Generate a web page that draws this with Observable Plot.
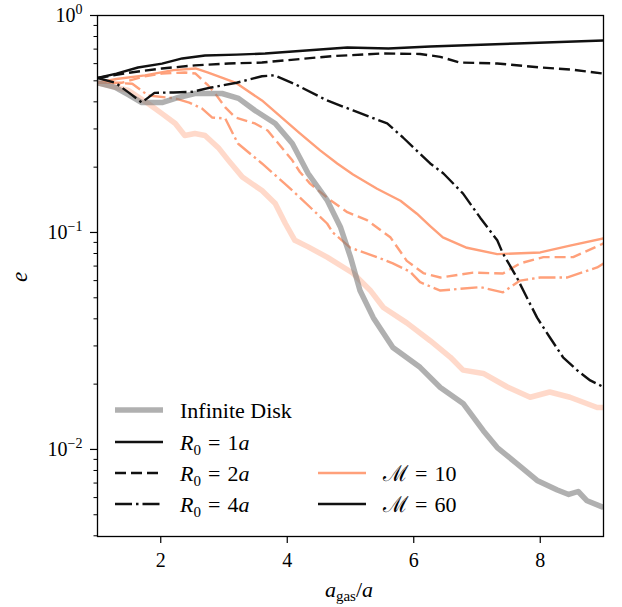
<!DOCTYPE html>
<html><head><meta charset="utf-8">
<script src="https://cdn.jsdelivr.net/npm/d3@7"></script>
<script src="https://cdn.jsdelivr.net/npm/@observablehq/plot@0.6"></script>
<style>
body{margin:0;background:#fff;}
#chart{position:relative;width:622px;height:607px;}
</style></head><body><div id="chart"></div>
<script>
// ---- data: [a_gas/a, e] ----
const infiniteDiskM60 = [[1,0.49],[1.28,0.466],[1.5,0.43],[1.7,0.397],[2.02,0.397],[2.28,0.419],[2.54,0.437],[2.97,0.437],[3.23,0.415],[3.49,0.365],[3.81,0.318],[4.08,0.257],[4.33,0.187],[4.63,0.141],[4.84,0.106],[5.0,0.077],[5.15,0.054],[5.36,0.0405],[5.67,0.0295],[6.1,0.0239],[6.42,0.0193],[6.78,0.0163],[7.1,0.0122],[7.32,0.0102],[7.63,0.0086],[7.95,0.0072],[8.27,0.0065],[8.45,0.0062],[8.6,0.0064],[8.74,0.0058],[9,0.0054]];
const infiniteDiskM10 = [[1,0.49],[1.25,0.47],[1.49,0.451],[1.8,0.393],[2.02,0.353],[2.23,0.318],[2.38,0.28],[2.54,0.286],[2.7,0.28],[2.91,0.246],[3.07,0.215],[3.29,0.18],[3.6,0.156],[3.81,0.136],[3.97,0.11],[4.12,0.092],[4.33,0.0858],[4.63,0.077],[5.04,0.0649],[5.31,0.0542],[5.52,0.0451],[5.89,0.0383],[6.26,0.0317],[6.58,0.0266],[6.78,0.0232],[7.1,0.0224],[7.48,0.0194],[7.84,0.0174],[8.15,0.0184],[8.47,0.0174],[8.9,0.0156],[9,0.0156]];
const r1M10 = [[1,0.49],[1.3,0.51],[1.75,0.53],[2.2,0.56],[2.55,0.57],[2.75,0.546],[3.18,0.491],[3.6,0.406],[4.2,0.286],[4.52,0.239],[4.79,0.208],[5.04,0.185],[5.42,0.159],[5.79,0.14],[6.05,0.122],[6.26,0.107],[6.46,0.095],[6.84,0.085],[7.32,0.0795],[8.0,0.0809],[8.47,0.087],[9,0.094]];
const r2M10 = [[1,0.49],[1.39,0.49],[1.75,0.525],[2.02,0.54],[2.38,0.546],[2.55,0.54],[2.75,0.476],[2.86,0.437],[3.02,0.377],[3.18,0.339],[3.49,0.318],[3.69,0.295],[3.86,0.257],[4.08,0.215],[4.2,0.19],[4.36,0.168],[4.68,0.141],[4.95,0.124],[5.26,0.114],[5.63,0.095],[5.89,0.074],[6.15,0.065],[6.42,0.062],[6.94,0.0653],[7.41,0.0647],[7.68,0.072],[8.05,0.077],[8.52,0.077],[9,0.089]];
const r4M10 = [[1,0.49],[1.2,0.49],[1.55,0.485],[1.8,0.428],[2.23,0.415],[2.45,0.397],[2.65,0.373],[2.81,0.339],[3.02,0.335],[3.22,0.257],[3.6,0.208],[3.96,0.168],[4.2,0.145],[4.47,0.122],[4.63,0.11],[4.72,0.1],[5.0,0.085],[5.42,0.077],[5.67,0.072],[5.94,0.066],[6.1,0.059],[6.42,0.054],[7.05,0.056],[7.41,0.053],[7.68,0.06],[8.0,0.062],[8.42,0.062],[8.9,0.069],[9,0.072]];
const r1M60 = [[1,0.515],[1.3,0.54],[1.64,0.576],[2.02,0.6],[2.34,0.634],[2.7,0.654],[3.2,0.66],[3.65,0.668],[4.3,0.69],[4.95,0.712],[5.6,0.705],[6.26,0.72],[7.63,0.743],[9,0.767]];
const r2M60 = [[1,0.515],[1.5,0.545],[2.02,0.57],[2.54,0.589],[3.07,0.601],[3.6,0.607],[4.2,0.63],[4.72,0.65],[5.5,0.668],[6.1,0.665],[6.42,0.645],[6.73,0.607],[7.32,0.601],[8.0,0.576],[8.47,0.564],[9,0.54]];
const r4M60 = [[1,0.515],[1.28,0.49],[1.5,0.44],[1.7,0.397],[1.9,0.44],[2.2,0.442],[2.5,0.445],[2.8,0.466],[3.2,0.49],[3.6,0.525],[3.8,0.53],[4.1,0.486],[4.63,0.406],[5.04,0.365],[5.58,0.318],[5.83,0.274],[6.26,0.208],[6.47,0.187],[6.78,0.151],[7.05,0.117],[7.32,0.092],[7.41,0.08],[7.63,0.062],[7.79,0.05],[7.95,0.0405],[8.15,0.0329],[8.36,0.0266],[8.58,0.0232],[8.79,0.0208],[9,0.0194]];

const xTicks = [2, 4, 6, 8];
const yMajor = [1, 0.1, 0.01];
const yMinor = [0.004,0.005,0.006,0.007,0.008,0.009,0.02,0.03,0.04,0.05,0.06,0.07,0.08,0.09,0.2,0.3,0.4,0.5,0.6,0.7,0.8,0.9];

const ORANGE = "#FFA07A", BLACK = "#111111", GREY = "#7f7f7f";
const DASH = "11,5", DASHDOT = "17,4,2.5,4";
const FONT = "Liberation Serif";

const series = [
  {data: r1M10, stroke: ORANGE, w: 2.4, op: 1, dash: null},
  {data: r2M10, stroke: ORANGE, w: 2.4, op: 1, dash: DASH},
  {data: r4M10, stroke: ORANGE, w: 2.4, op: 1, dash: DASHDOT},
  {data: infiniteDiskM10, stroke: ORANGE, w: 5.5, op: 0.4, dash: null},
  {data: infiniteDiskM60, stroke: GREY, w: 5.5, op: 0.62, dash: null},
  {data: r1M60, stroke: BLACK, w: 2.4, op: 1, dash: null},
  {data: r2M60, stroke: BLACK, w: 2.4, op: 1, dash: DASH},
  {data: r4M60, stroke: BLACK, w: 2.4, op: 1, dash: DASHDOT}
];

const chart = document.getElementById("chart");
const svgEl = Plot.plot({
  width: 622, height: 607,
  marginLeft: 97, marginRight: 19, marginTop: 15, marginBottom: 71,
  style: {fontFamily: FONT, fontSize: "20px", background: "#fff", color: "#000"},
  x: {domain: [1, 9]},
  y: {type: "log", domain: [0.00397, 1]},
  marks: [
    ...series.map(s => Plot.line(s.data, {x: d => d[0], y: d => d[1], stroke: s.stroke, strokeWidth: s.w, strokeOpacity: s.op, strokeDasharray: s.dash, strokeLinejoin: "round", strokeLinecap: "butt", clip: true})),
    Plot.axisX(xTicks, {tickSize: 7, tickPadding: 9, label: null, stroke: "#000", strokeWidth: 1.2, fontSize: 20}),
    Plot.axisY(yMajor, {tickSize: 7, tickPadding: 8, label: null, stroke: "#000", strokeWidth: 1.2, fontSize: 20,
      tickFormat: d => "10^" + String(Math.round(Math.log10(d))).replace("-", "\u2212")}),
    Plot.axisY(yMinor, {tickSize: 3.5, label: null, stroke: "#000", strokeWidth: 1, tickFormat: () => ""}),
    Plot.frame({stroke: "#000", strokeWidth: 1.3})
  ]
});
chart.appendChild(svgEl);

const svg = d3.select(svgEl);
// superscript tick labels
svg.selectAll("text").each(function () {
  const m = this.textContent.match(/^10\^(.+)$/);
  if (m) {
    this.textContent = "";
    const s = d3.select(this);
    s.append("tspan").text("10");
    s.append("tspan").attr("dy", "-0.55em").attr("font-size", "14px").text(m[1]);
  }
});

// axis labels
const xl = svg.append("text").attr("x", 349).attr("y", 597).attr("text-anchor", "middle").attr("font-size", 22);
xl.append("tspan").attr("font-style", "italic").text("a");
xl.append("tspan").attr("dy", 4).attr("font-size", 15).text("gas");
xl.append("tspan").attr("dy", -4).text("/");
xl.append("tspan").attr("font-style", "italic").text("a");

svg.append("text").attr("transform", "translate(27,277) rotate(-90)").attr("text-anchor", "middle")
  .attr("font-size", 23).attr("font-style", "italic").text("e");

// legend
const legend = [
  {col: 0, row: 0, stroke: GREY, op: 0.62, w: 5.5, dash: null, label: "inf"},
  {col: 0, row: 1, stroke: BLACK, op: 1, w: 2.4, dash: null, label: ["R", "0", "1"]},
  {col: 0, row: 2, stroke: BLACK, op: 1, w: 2.4, dash: DASH, label: ["R", "0", "2"]},
  {col: 0, row: 3, stroke: BLACK, op: 1, w: 2.4, dash: DASHDOT, label: ["R", "0", "4"]},
  {col: 1, row: 2, stroke: ORANGE, op: 1, w: 2.4, dash: null, label: "M10"},
  {col: 1, row: 3, stroke: BLACK, op: 1, w: 2.4, dash: null, label: "M60"}
];
const colX = [115, 318], rowY = [410, 442, 473, 504];
const lg = svg.append("g").attr("font-size", 22).attr("text-anchor", "start");
legend.forEach(it => {
  const x0 = colX[it.col], y0 = rowY[it.row];
  lg.append("line").attr("x1", x0).attr("x2", x0 + 48).attr("y1", y0).attr("y2", y0)
    .attr("stroke", it.stroke).attr("stroke-opacity", it.op).attr("stroke-width", it.w)
    .attr("stroke-dasharray", it.dash);
  const t = lg.append("text").attr("x", x0 + 65).attr("y", y0 + 8).attr("text-anchor", "start");
  if (it.label === "inf") {
    t.text("Infinite Disk");
  } else if (Array.isArray(it.label)) {
    t.append("tspan").attr("font-style", "italic").text("R");
    t.append("tspan").attr("font-size", 15).attr("dy", 5).text(it.label[1]);
    t.append("tspan").attr("dy", -5).attr("dx", 7).text("=");
    t.append("tspan").attr("dx", 7).text(it.label[2]);
    t.append("tspan").attr("font-style", "italic").text("a");
  } else {
    t.append("tspan").text("\u2133");
    t.append("tspan").attr("dx", 7).text("=");
    t.append("tspan").attr("dx", 7).text(it.label === "M10" ? "10" : "60");
  }
});
</script></body></html>
